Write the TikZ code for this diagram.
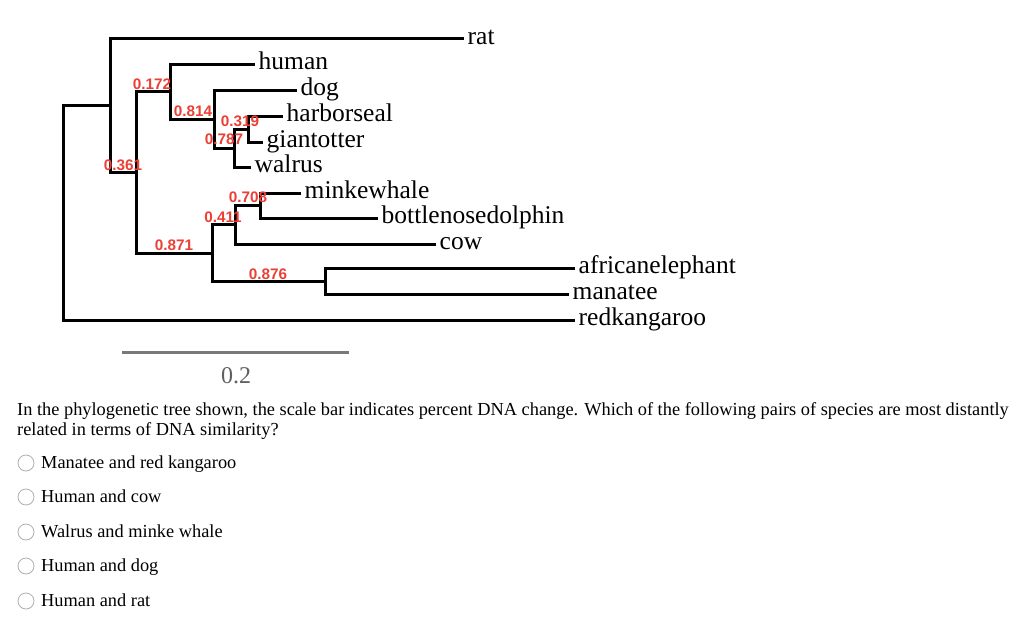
\documentclass[tikz,border=0pt]{standalone}
\usepackage{fontspec}
\setmainfont{Liberation Serif}
\newfontfamily\labfont{Liberation Sans}
\definecolor{lab}{RGB}{236,64,54}
\definecolor{bargray}{RGB}{120,120,120}
\definecolor{numgray}{RGB}{95,95,95}
\definecolor{radiogray}{RGB}{175,175,175}
\begin{document}
\begin{tikzpicture}[x=1pt,y=-1pt,
  branch/.style={line width=3pt, line join=miter, line cap=rect},
  leaf/.style={anchor=west, inner xsep=5.5pt, inner ysep=0pt, text height=11pt, text depth=0pt,
    font=\fontsize{25.5}{30}\selectfont},
  sup/.style={font=\labfont\bfseries\fontsize{15.3}{17}\selectfont, text=lab, inner sep=0pt},
  txt/.style={anchor=base west, inner sep=0pt, font=\fontsize{18.35}{22}\selectfont},
  radio/.style={circle, draw=radiogray, line width=0.8pt, fill=white, minimum size=16pt, inner sep=0pt}]
\useasboundingbox[fill=white] (0,0) rectangle (1024,626);

% internal nodes
\coordinate (R) at (63,212.8);
\coordinate (A) at (110,105.6);
\coordinate (B) at (136,172.2);
\coordinate (C) at (170,91.5);
\coordinate (E) at (214,119);
\coordinate (F) at (234,148);
\coordinate (G) at (248,129);
\coordinate (D) at (212,253);
\coordinate (H) at (235,224.5);
\coordinate (J) at (260,205.5);
\coordinate (I) at (325,281);

% leaves
\node[leaf] (rat) at (462,39) {rat};
\node[leaf] (human) at (253,64) {human};
\node[leaf] (dog) at (295,90) {dog};
\node[leaf] (harborseal) at (281,116) {harborseal};
\node[leaf] (giantotter) at (261,142) {giantotter};
\node[leaf] (walrus) at (249,167) {walrus};
\node[leaf] (minkewhale) at (299,193) {minkewhale};
\node[leaf] (bottlenose) at (376,218) {bottlenosedolphin};
\node[leaf] (cow) at (434,244) {cow};
\node[leaf] (elephant) at (573,268) {africanelephant};
\node[leaf] (manatee) at (567,294) {manatee};
\node[leaf] (kangaroo) at (573,320) {redkangaroo};

% branches
\draw[branch] (R) |- (A);
\draw[branch] (R) |- (kangaroo.west);
\draw[branch] (A) |- (rat.west);
\draw[branch] (A) |- (B);
\draw[branch] (B) |- (C);
\draw[branch] (B) |- (D);
\draw[branch] (C) |- (human.west);
\draw[branch] (C) |- (E);
\draw[branch] (E) |- (dog.west);
\draw[branch] (E) |- (F);
\draw[branch] (F) |- (G);
\draw[branch] (F) |- (walrus.west);
\draw[branch] (G) |- (harborseal.west);
\draw[branch] (G) |- (giantotter.west);
\draw[branch] (D) |- (H);
\draw[branch] (D) |- (I);
\draw[branch] (H) |- (J);
\draw[branch] (H) |- (cow.west);
\draw[branch] (J) |- (minkewhale.west);
\draw[branch] (J) |- (bottlenose.west);
\draw[branch] (I) |- (elephant.west);
\draw[branch] (I) |- (manatee.west);

% support values
\node[sup] (s172) at (152,84) {0.172};
\node[sup] (s814) at (193,111) {0.814};
\node[sup] (s319) at (240,121) {0.319};
\node[sup] (s787) at (224,139) {0.787};
\node[sup] (s361) at (123,165) {0.361};
\node[sup] (s708) at (248,197) {0.708};
\node[sup] (s411) at (223,217) {0.411};
\node[sup] (s871) at (174,245) {0.871};
\node[sup] (s876) at (268,274) {0.876};

% scale bar
\coordinate (bar1) at (122,352);
\coordinate (bar2) at (349,352);
\draw[bargray, line width=3pt] (bar1) -- (bar2);
\node[anchor=base, inner sep=0pt, text=numgray, font=\fontsize{24}{28}\selectfont] (scale) at (236,383) {0.2};

% question
\node[txt] (q1) at (17,415) {In the phylogenetic tree shown, the scale bar indicates percent DNA change. Which of the following pairs of species are most distantly};
\node[txt] (q2) at (17,435) {related in terms of DNA similarity?};

% options
\node[radio] (r1) at (26,463) {};
\node[radio] (r2) at (26,497) {};
\node[radio] (r3) at (26,532) {};
\node[radio] (r4) at (26,566) {};
\node[radio] (r5) at (26,601) {};
\node[txt] (o1) at (41,468) {Manatee and red kangaroo};
\node[txt] (o2) at (41,502) {Human and cow};
\node[txt] (o3) at (41,537) {Walrus and minke whale};
\node[txt] (o4) at (41,571) {Human and dog};
\node[txt] (o5) at (41,606) {Human and rat};
\end{tikzpicture}
\end{document}
